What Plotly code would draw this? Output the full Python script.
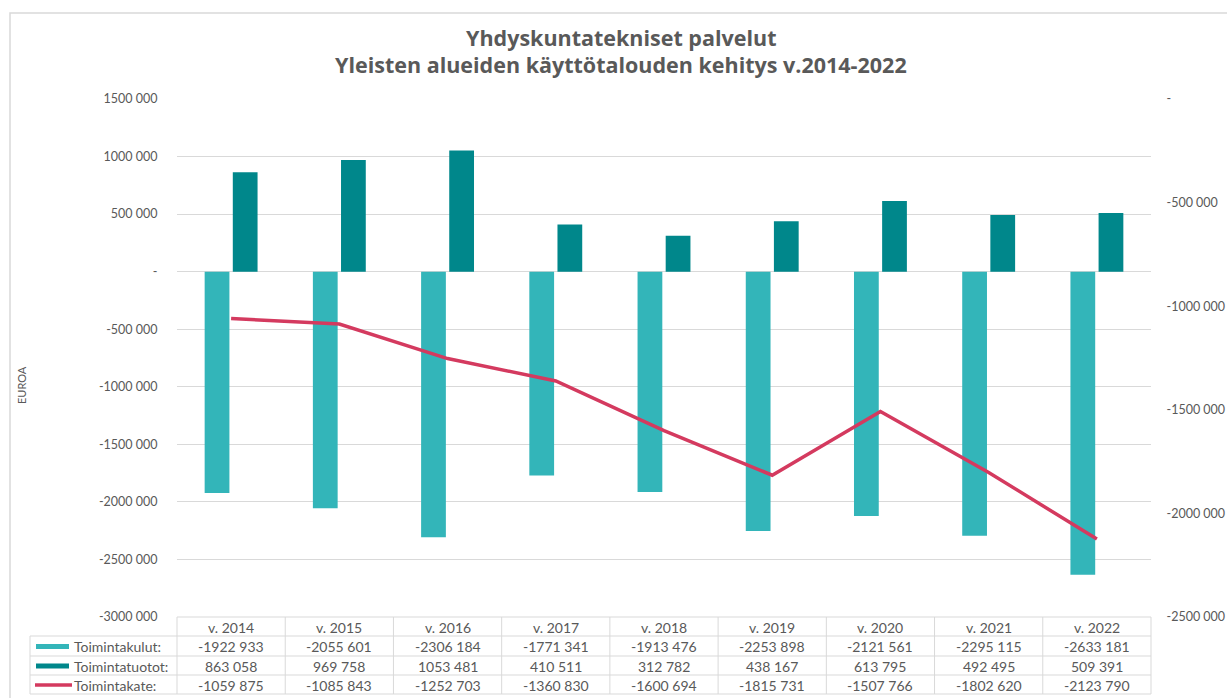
import plotly.graph_objects as go

# Yleisten alueiden käyttötalous 2014-2022
years = ["v. 2014", "v. 2015", "v. 2016", "v. 2017", "v. 2018",
         "v. 2019", "v. 2020", "v. 2021", "v. 2022"]
toimintakulut = [-1922933, -2055601, -2306184, -1771341, -1913476,
                 -2253898, -2121561, -2295115, -2633181]
toimintatuotot = [863058, 969758, 1053481, 410511, 312782,
                  438167, 613795, 492495, 509391]
toimintakate = [-1059875, -1085843, -1252703, -1360830, -1600694,
                -1815731, -1507766, -1802620, -2123790]

series_names = ["Toimintakulut:", "Toimintatuotot:", "Toimintakate:"]
title_lines = ["Yhdyskuntatekniset palvelut",
               "Yleisten alueiden käyttötalouden kehitys v.2014-2022"]
left_ticks = [1500000, 1000000, 500000, 0, -500000, -1000000,
              -1500000, -2000000, -2500000, -3000000]
right_ticks = [0, -500000, -1000000, -1500000, -2000000, -2500000]

C_KULUT = "#33B5B9"
C_TUOTOT = "#00878B"
C_KATE = "#D43A5F"
GRID = "#D9D9D9"
TXT = "#595959"
FONT = "Lato"

W, H = 1227, 698
L, R, T, B = 177, 1151, 99, 617   # plot area in pixels


def fmt(v):
    """Excel style '### ###' number format, '-' for zero."""
    if v == 0:
        return "-"
    sign = "-" if v < 0 else ""
    a = abs(int(v))
    if a < 1000:
        return sign + str(a)
    return f"{sign}{a // 1000} {a % 1000:03d}"


def px(x):
    return (x - L) / (R - L)


def py(y):
    return (B - y) / (B - T)


fig = go.Figure()
fig.add_trace(go.Bar(x=years, y=toimintakulut, name=series_names[0],
                     marker=dict(color=C_KULUT, line=dict(width=0))))
fig.add_trace(go.Bar(x=years, y=toimintatuotot, name=series_names[1],
                     marker=dict(color=C_TUOTOT, line=dict(width=0))))
fig.add_trace(go.Scatter(x=years, y=toimintakate, name=series_names[2],
                         yaxis="y2", mode="lines",
                         line=dict(color=C_KATE, width=3.5)))

shapes = []
annotations = []

# outer chart border
shapes.append(dict(type="rect", xref="paper", yref="paper",
                   x0=px(10), x1=px(W + 20), y0=py(H + 20), y1=py(13),
                   line=dict(color=GRID, width=1.5), layer="below"))

# two-line chart title
for text, ty in zip(title_lines, [37, 64]):
    annotations.append(dict(x=px(621), xref="paper", y=py(ty), yref="paper",
                            xanchor="center", yanchor="middle", text=text,
                            showarrow=False,
                            font=dict(family="Open Sans", size=21.5, color=TXT,
                                      weight="bold")))

# data table grid
row_y = [617, 636, 656, 675, 694]
col_w = (R - L) / len(years)
shapes.append(dict(type="line", xref="paper", yref="paper",
                   x0=px(L), x1=px(R), y0=py(row_y[0]), y1=py(row_y[0]),
                   line=dict(color=GRID, width=1)))
for yy in row_y[1:]:
    shapes.append(dict(type="line", xref="paper", yref="paper",
                       x0=px(30), x1=px(R), y0=py(yy), y1=py(yy),
                       line=dict(color=GRID, width=1)))
for k in range(len(years) + 1):
    xx = L + k * col_w
    shapes.append(dict(type="line", xref="paper", yref="paper",
                       x0=px(xx), x1=px(xx), y0=py(row_y[0]), y1=py(row_y[-1]),
                       line=dict(color=GRID, width=1)))
shapes.append(dict(type="line", xref="paper", yref="paper",
                   x0=px(30), x1=px(30), y0=py(row_y[1]), y1=py(row_y[-1]),
                   line=dict(color=GRID, width=1)))

TABLE_FONT = dict(family=FONT, size=14, color=TXT)

# header row: years
for yr in years:
    annotations.append(dict(x=yr, xref="x", y=py((row_y[0] + row_y[1]) / 2 + 0.5),
                            yref="paper", yanchor="middle", text=yr,
                            showarrow=False, font=TABLE_FONT))

# value rows with legend keys
rows = [toimintakulut, toimintatuotot, toimintakate]
colors = [C_KULUT, C_TUOTOT, C_KATE]
for i, (name, vals, col) in enumerate(zip(series_names, rows, colors)):
    yc = (row_y[i + 1] + row_y[i + 2]) / 2 + 0.5
    if i < 2:
        shapes.append(dict(type="rect", xref="paper", yref="paper",
                           x0=px(36), x1=px(69), y0=py(yc + 2.5), y1=py(yc - 2.5),
                           fillcolor=col, line=dict(width=0)))
    else:
        shapes.append(dict(type="line", xref="paper", yref="paper",
                           x0=px(35), x1=px(72), y0=py(yc), y1=py(yc),
                           line=dict(color=col, width=3.5)))
    annotations.append(dict(x=px(72), xref="paper", y=py(yc), yref="paper",
                            yanchor="middle", text=name, showarrow=False,
                            xanchor="left", font=TABLE_FONT))
    for yr, v in zip(years, vals):
        annotations.append(dict(x=yr, xref="x", y=py(yc), yref="paper",
                                yanchor="middle", text=fmt(v),
                                showarrow=False, font=TABLE_FONT))

# vertical axis title
annotations.append(dict(x=px(21), xref="paper", y=py(385), yref="paper",
                        xanchor="center", yanchor="middle",
                        text="EUROA", textangle=-90, showarrow=False,
                        font=dict(family=FONT, size=11, color=TXT)))

fig.update_layout(
    width=W, height=H,
    margin=dict(l=L, r=W - R, t=T, b=H - B, autoexpand=False),
    paper_bgcolor="white", plot_bgcolor="white",
    showlegend=False,
    barmode="group", bargap=0.48, bargroupgap=0.12,
    xaxis=dict(showticklabels=False, showgrid=False, zeroline=False,
               showline=False, ticks="", automargin=False),
    yaxis=dict(range=[-3000000, 1500000], tickvals=left_ticks,
               ticktext=[fmt(v) for v in left_ticks],
               showgrid=True, gridcolor=GRID, gridwidth=1, zeroline=False,
               showline=False, ticks="outside", ticklen=16,
               tickcolor="rgba(0,0,0,0)", automargin=False,
               tickfont=dict(family=FONT, size=12.5, color=TXT)),
    yaxis2=dict(range=[-2500000, 0], overlaying="y", side="right",
                tickvals=right_ticks, ticktext=[fmt(v) for v in right_ticks],
                showgrid=False, zeroline=False, showline=False,
                ticks="outside", ticklen=12, tickcolor="rgba(0,0,0,0)",
                automargin=False,
                tickfont=dict(family=FONT, size=12.5, color=TXT)),
    shapes=shapes,
    annotations=annotations,
)

fig.write_html("out.html")
